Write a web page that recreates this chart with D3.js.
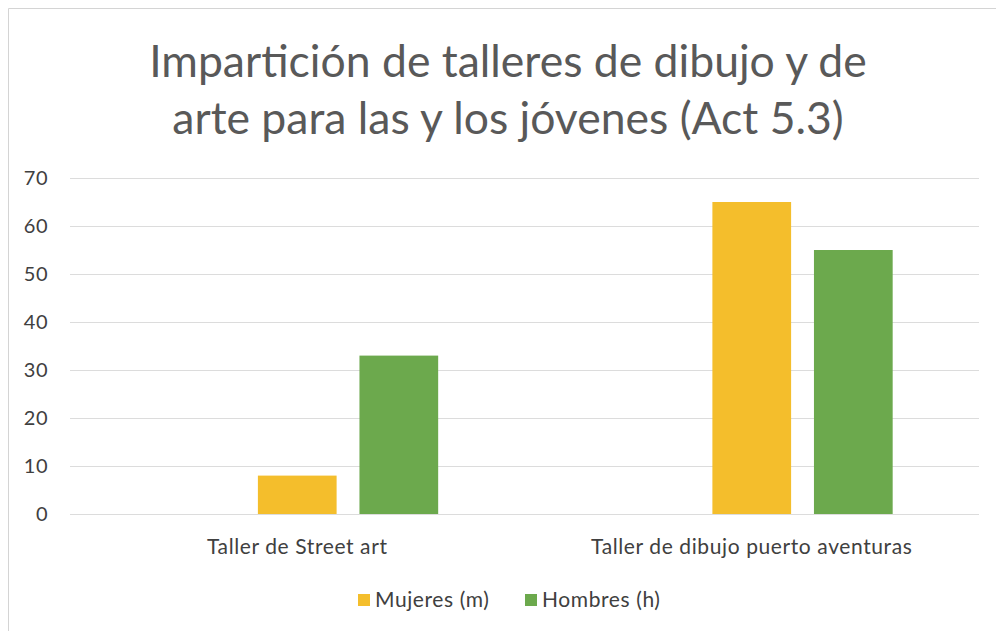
<!DOCTYPE html>
<html>
<head>
<meta charset="utf-8">
<script src="https://cdn.jsdelivr.net/npm/d3@7"></script>
<style>
  body { margin: 0; background: #fff; }
  text { font-family: Lato, "Open Sans", sans-serif; }
</style>
</head>
<body>
<div id="chart"></div>
<script>
// data
var titleLines = ["Impartición de talleres de dibujo y de", "arte para las y los jóvenes (Act 5.3)"];
var categories = ["Taller de Street art", "Taller de dibujo puerto aventuras"];
// the Excel chart keeps an empty first slot in each group, so bars sit right of the label
var slots = ["vacío", "Mujeres (m)", "Hombres (h)"];
var mujeres = [8, 65];
var hombres = [33, 55];
var yTicks = [0, 10, 20, 30, 40, 50, 60, 70];

var W = 996, H = 631;
var colors = {"Mujeres (m)": "#F4BE2C", "Hombres (h)": "#6CA94D"};
var margin = {left: 70, right: 17, top: 178, bottom: 117};

var svg = d3.select("#chart").append("svg")
    .attr("width", W)
    .attr("height", H);

// chart frame (scan edges)
svg.append("path")
    .attr("d", "M 8.5 " + H + " L 8.5 8.5 L " + W + " 8.5")
    .style("fill", "none")
    .style("stroke", "#d4d4d4")
    .style("stroke-width", 1);

svg.selectAll(".title")
    .data(titleLines).enter()
    .append("text")
    .attr("class", "title")
    .attr("x", 508)
    .attr("y", function(d, i){ return 77 + i * 57; })
    .attr("text-anchor", "middle")
    .attr("font-size", "44.5px")
    .style("fill", "#595959")
    .text(function(d){ return d; });

var y = d3.scaleLinear()
    .domain([0, 70])
    .range([H - margin.bottom, margin.top]);

var x0 = d3.scaleBand()
    .domain(categories)
    .range([margin.left, W - margin.right]);

var x1 = d3.scaleBand()
    .domain(slots)
    .range([0, x0.bandwidth()])
    .paddingInner(0.225)
    .paddingOuter(0.85);

// gridlines
svg.append("g")
    .attr("transform", "translate(" + margin.left + ",0)")
    .call(d3.axisLeft(y).tickValues(yTicks).tickSize(-(W - margin.left - margin.right)).tickFormat(""))
    .call(function(g){
        g.select(".domain").remove();
        g.selectAll("line").style("stroke", "#dcdcdc");
    });

// y tick labels
svg.append("g")
    .attr("transform", "translate(" + margin.left + ",0)")
    .call(d3.axisLeft(y).tickValues(yTicks).tickSize(0).tickPadding(22))
    .call(function(g){
        g.select(".domain").remove();
        g.selectAll("text")
            .attr("font-size", "20px")
            .attr("letter-spacing", "0.5px")
            .style("fill", "#404040");
    });

var rows = categories.map(function(c, i){
    return {cat: c, vals: [
        {key: "Mujeres (m)", value: mujeres[i]},
        {key: "Hombres (h)", value: hombres[i]}
    ]};
});

var groups = svg.selectAll(".grp")
    .data(rows).enter()
    .append("g")
    .attr("class", "grp")
    .attr("transform", function(d){ return "translate(" + x0(d.cat) + ",0)"; });

groups.selectAll("rect")
    .data(function(d){ return d.vals; }).enter()
    .append("rect")
    .attr("x", function(d){ return x1(d.key); })
    .attr("y", function(d){ return y(d.value); })
    .attr("width", x1.bandwidth())
    .attr("height", function(d){ return y(0) - y(d.value); })
    .style("fill", function(d){ return colors[d.key]; });

// category labels
svg.selectAll(".cat")
    .data(categories).enter()
    .append("text")
    .attr("class", "cat")
    .attr("x", function(d){ return x0(d) + x0.bandwidth() / 2; })
    .attr("y", 554)
    .attr("text-anchor", "middle")
    .attr("font-size", "21px")
    .attr("letter-spacing", "0.6px")
    .style("fill", "#404040")
    .text(function(d){ return d; });

// legend
var legendX = [358, 525];
var legend = svg.selectAll(".leg")
    .data(["Mujeres (m)", "Hombres (h)"]).enter()
    .append("g")
    .attr("class", "leg")
    .attr("transform", function(d, i){ return "translate(" + legendX[i] + ",594)"; });

legend.append("rect")
    .attr("width", 12)
    .attr("height", 12)
    .style("fill", function(d){ return colors[d]; });

legend.append("text")
    .attr("x", 17)
    .attr("y", 13)
    .attr("font-size", "21px")
    .attr("letter-spacing", "0.6px")
    .style("fill", "#404040")
    .text(function(d){ return d; });
</script>
</body>
</html>
